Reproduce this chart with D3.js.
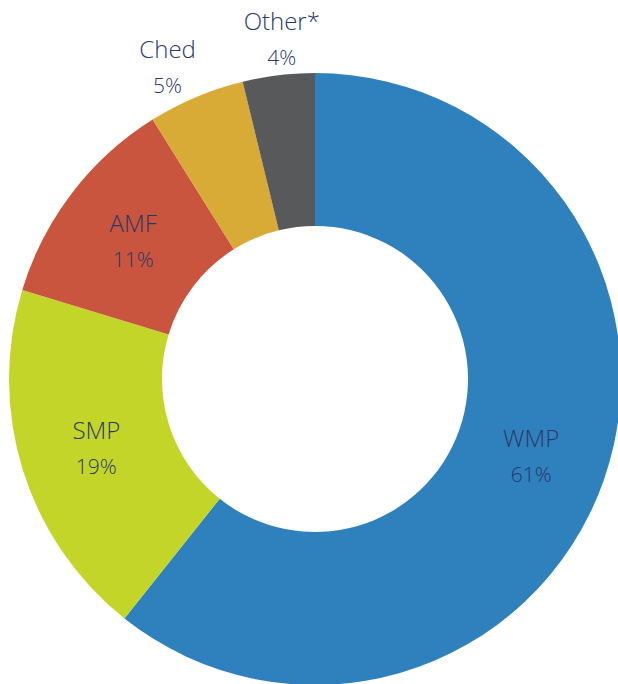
<!DOCTYPE html>
<html>
<head>
<meta charset="utf-8">
<script src="https://cdn.jsdelivr.net/npm/d3@7"></script>
<style>
  body { margin: 0; background: #fff; }
  svg text { font-family: "Open Sans", "Lato", sans-serif; font-weight: 300; fill: #2b3768; }
</style>
</head>
<body>
<div id="chart"></div>
<script>
// share of exports by product (%)
const categories = ["WMP", "SMP", "AMF", "Ched", "Other*"];
const values = [60.7, 19.0, 11.4, 5.1, 3.8];
const valueLabels = ["61%", "19%", "11%", "5%", "4%"];
const outsideLabel = [false, false, false, true, true];
const colors = ["#2e81bd", "#c4d52a", "#c9553e", "#d8ab37", "#58595b"];

const width = 618, height = 684;
const cx = 315, cy = 379;
const outerR = 306, innerR = 153;

// small hand nudges for the two labels sitting outside the ring
const labelNudge = { "Ched": [-13, 6], "Other*": [8, 3] };

const svg = d3.select("#chart").append("svg")
    .attr("width", width)
    .attr("height", height);

const g = svg.append("g").attr("transform", `translate(${cx},${cy})`);

const pie = d3.pie().sort(null).value(d => d);
const arcs = pie(values);

const arc = d3.arc().innerRadius(innerR).outerRadius(outerR);
const labelArcIn = d3.arc().innerRadius(229).outerRadius(229);
const labelArcOut = d3.arc().innerRadius(346).outerRadius(346);

g.selectAll("path.slice")
    .data(arcs)
    .enter().append("path")
    .attr("class", "slice")
    .attr("d", arc)
    .attr("fill", (d, i) => colors[i]);

const labels = g.selectAll("g.label")
    .data(arcs)
    .enter().append("g")
    .attr("class", "label")
    .attr("transform", (d, i) => {
        const p = outsideLabel[i] ? labelArcOut.centroid(d) : labelArcIn.centroid(d);
        const n = labelNudge[categories[i]] || [0, 0];
        return `translate(${p[0] + n[0]},${p[1] + n[1]})`;
    });

labels.append("text")
    .attr("text-anchor", "middle")
    .attr("y", -8)
    .attr("font-size", 24)
    .text((d, i) => categories[i]);

labels.append("text")
    .attr("text-anchor", "middle")
    .attr("y", 27)
    .attr("font-size", 21)
    .text((d, i) => valueLabels[i]);
</script>
</body>
</html>
